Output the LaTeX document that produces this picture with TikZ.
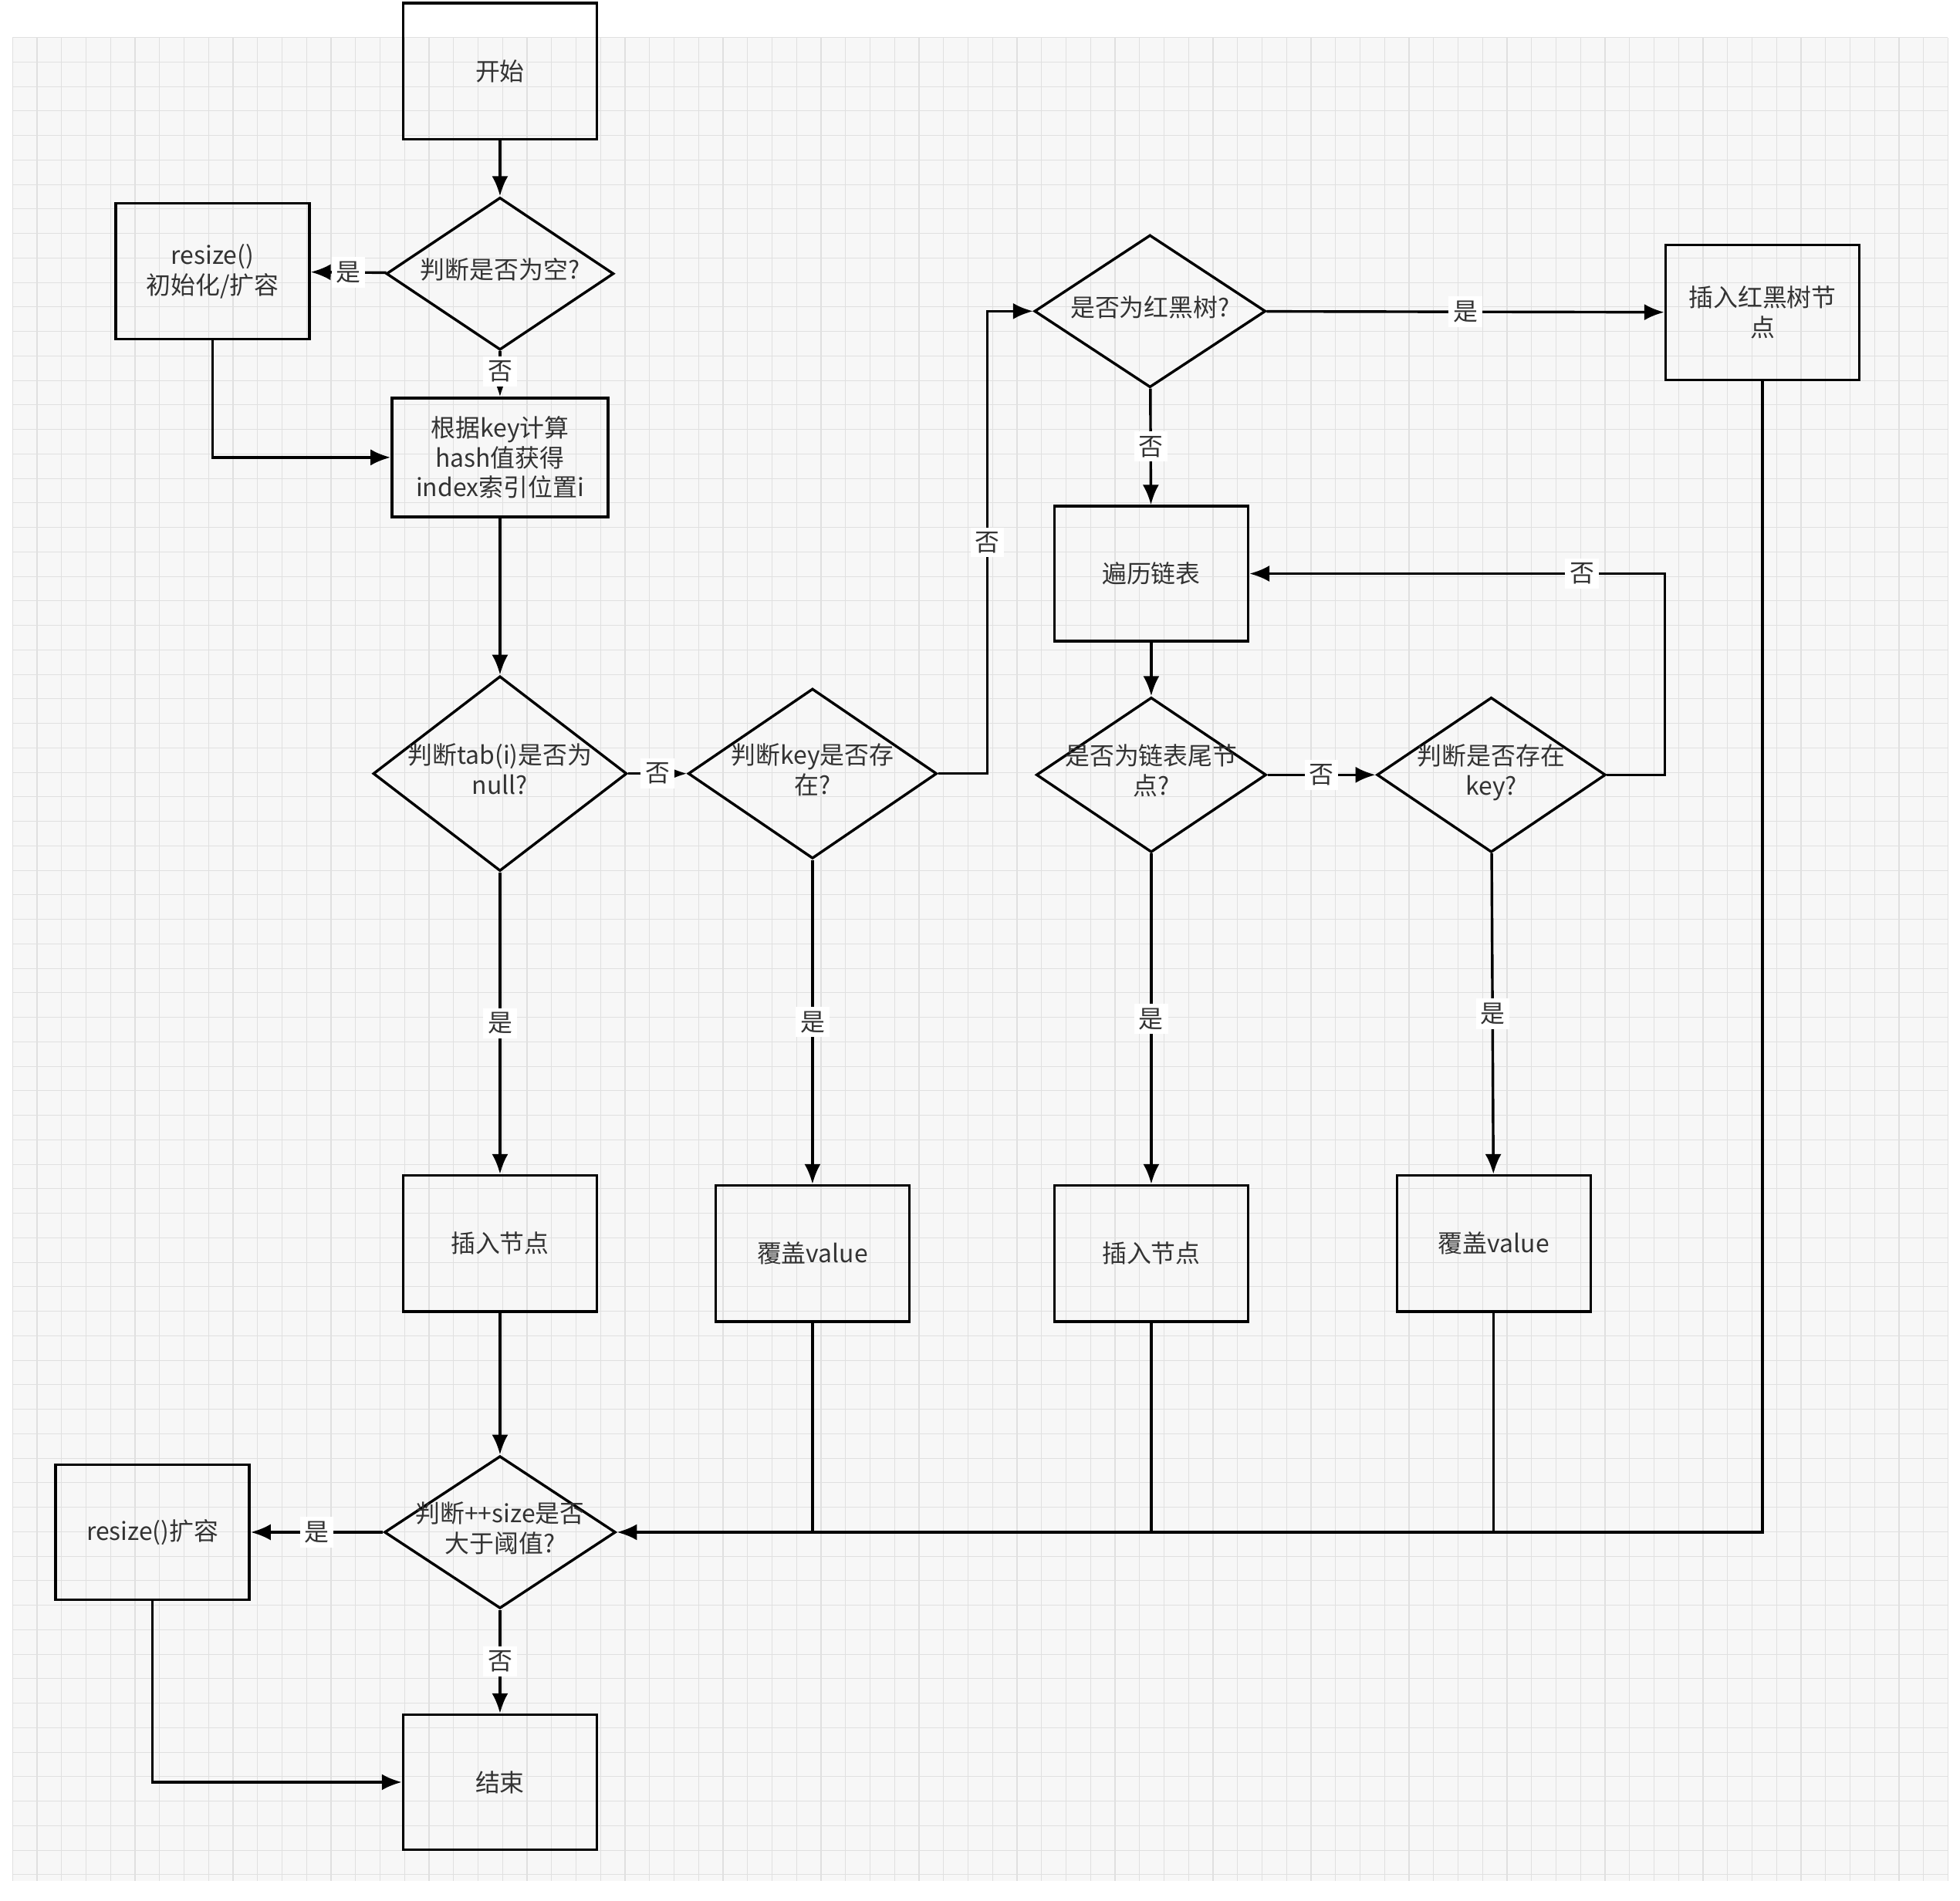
\documentclass[tikz,border=0pt]{standalone}
\usepackage{fontspec}
\setmainfont{Noto Sans CJK SC}
\usetikzlibrary{shapes.geometric,arrows.meta}
\newcommand\dtx[1]{\smash{\makebox[0pt]{\raisebox{-0.45ex}{\begin{tabular}{@{}c@{}}#1\end{tabular}}}}}
\begin{document}
\begin{tikzpicture}[x=0.1mm,y=-0.1mm,
  every node/.style={font=\fontsize{5.6}{6.8}\selectfont,text=black!80},
  box/.style={draw,line width=0.6pt,align=center,inner sep=1pt},
  dia/.style={draw,line width=0.6pt,diamond,inner sep=0pt},
  ln/.style={line width=0.6pt},
  ar/.style={ln,-{Latex[length=1.6mm,width=1.3mm]}},
  lb/.style={fill=white,inner sep=1pt}]
\fill[white] (0,0) rectangle (1568,1521);
\fill[black!3] (10,30) rectangle (1558,1505);
\foreach \i in {0,...,79} {\draw[black!12,line width=0.2pt] (10+19.6*\i,30) -- (10+19.6*\i,1505);}
\foreach \i in {0,...,75} {\draw[black!12,line width=0.2pt] (10,30+19.6*\i) -- (1558,30+19.6*\i);}
\useasboundingbox (0,0) rectangle (1568,1521);
% nodes
\node[box,minimum width=15.5mm,minimum height=10.9mm] (start) at (400,57) {开始};
\node[dia,minimum width=18.2mm,minimum height=12.2mm] (empty) at (400,219) {\dtx{判断是否为空?}};
\node[box,minimum width=15.5mm,minimum height=10.9mm] (init) at (170,217) {resize()\\初始化/扩容};
\node[box,minimum width=17.3mm,minimum height=9.5mm] (hash) at (400,366) {根据key计算\\hash值获得\\index索引位置i};
\node[dia,minimum width=20.3mm,minimum height=15.6mm] (tabnull) at (400,619) {\dtx{判断tab(i)是否为\\null?}};
\node[dia,minimum width=19.9mm,minimum height=13.6mm] (keyex) at (650,619) {\dtx{判断key是否存\\在?}};
\node[dia,minimum width=18.5mm,minimum height=12.2mm] (rb) at (920,249) {\dtx{是否为红黑树?}};
\node[box,minimum width=15.5mm,minimum height=10.8mm] (rbins) at (1410,250) {插入红黑树节\\点};
\node[box,minimum width=15.5mm,minimum height=10.8mm] (trav) at (921,459) {遍历链表};
\node[dia,minimum width=18.4mm,minimum height=12.4mm] (tail) at (921,620) {\dtx{是否为链表尾节\\点?}};
\node[dia,minimum width=18.3mm,minimum height=12.4mm] (exkey) at (1193,620) {\dtx{判断是否存在\\key?}};
\node[box,minimum width=15.5mm,minimum height=10.9mm] (ins1) at (400,995) {插入节点};
\node[box,minimum width=15.5mm,minimum height=10.9mm] (cov1) at (650,1003) {覆盖value};
\node[box,minimum width=15.5mm,minimum height=10.9mm] (ins2) at (921,1003) {插入节点};
\node[box,minimum width=15.5mm,minimum height=10.9mm] (cov2) at (1195,995) {覆盖value};
\node[dia,minimum width=18.5mm,minimum height=12.2mm] (size) at (400,1226) {\dtx{判断++size是否\\大于阈值?}};
\node[box,minimum width=15.5mm,minimum height=10.8mm] (rsz) at (122,1226) {resize()扩容};
\node[box,minimum width=15.5mm,minimum height=10.8mm] (end) at (400,1426) {结束};
% edges
\draw[ar] (start) -- (empty);
\draw[ar] (empty) -- node[lb]{是} (init);
\draw[ar] (empty) -- node[lb,pos=0.45]{否} (hash);
\draw[ar] (init.south) |- (hash.west);
\draw[ar] (hash) -- (tabnull);
\draw[ar] (tabnull) -- node[lb]{否} (keyex);
\coordinate (k1) at (790,619);
\draw[ar] (keyex.east) -- (k1) -- node[lb,pos=0.5]{否} (k1 |- rb.west) -- (rb.west);
\draw[ar] (rb) -- node[lb]{是} (rbins);
\draw[ar] (rb) -- node[lb]{否} (trav);
\draw[ar] (trav) -- (tail);
\draw[ar] (tail) -- node[lb]{否} (exkey);
\coordinate (k2) at (1332,620);
\draw[ar] (exkey.east) -- (k2) -- (k2 |- trav.east) -- node[lb,pos=0.2]{否} (trav.east);
\draw[ar] (tabnull) -- node[lb]{是} (ins1);
\draw[ar] (keyex) -- node[lb,pos=0.5]{是} (cov1);
\draw[ar] (tail) -- node[lb,pos=0.5]{是} (ins2);
\draw[ar] (exkey) -- node[lb,pos=0.5]{是} (cov2);
\draw[ar] (ins1) -- (size);
\draw[ln] (cov1.south) -- (cov1.south |- size.east);
\draw[ln] (ins2.south) -- (ins2.south |- size.east);
\draw[ln] (cov2.south) -- (cov2.south |- size.east);
\draw[ar] (rbins.south) |- (size.east);
\draw[ar] (size) -- node[lb]{是} (rsz);
\draw[ar] (size) -- node[lb]{否} (end);
\draw[ar] (rsz.south) |- (end.west);
\end{tikzpicture}
\end{document}
